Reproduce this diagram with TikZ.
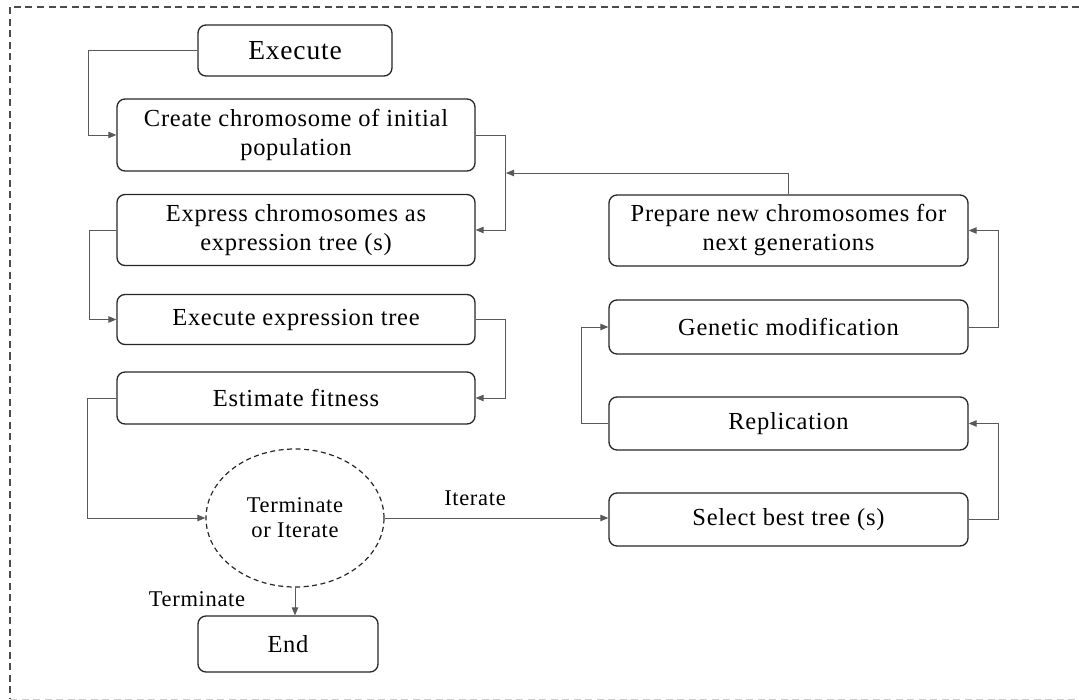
\documentclass[tikz,border=0pt]{standalone}
\usepackage{fontspec}
\setmainfont{Liberation Serif}[LetterSpace=3]
\usetikzlibrary{arrows.meta,shapes.geometric}
\begin{document}
\begin{tikzpicture}[x=1pt,y=-1pt,
  box/.style={draw=black!85,line width=1.3pt,rounded corners=8pt,align=center,inner sep=0pt,
    font=\fontsize{24.5}{29}\selectfont},
  conn/.style={draw=black!65,line width=0.9pt,-{Triangle[length=8pt,width=6.5pt]}},
  lbl/.style={font=\fontsize{22.5}{26}\selectfont,inner sep=0pt},
  frame/.style={black!70,line width=1.3pt,dash pattern=on 7pt off 4.5pt}]
\useasboundingbox (0,0) rectangle (1079,700);
\clip (0,0) rectangle (1079,700);
\draw[frame] (1079,7) -- (10,7) -- (10,699);
\draw[frame,black!20] (10,699.5) -- (1079,699.5);
% left column
\node[box,minimum width=194pt,minimum height=51pt,font=\fontsize{27.5}{32}\selectfont] (exe) at (295,50.5) {Execute};
\node[box,minimum width=358pt,minimum height=72pt] (create) at (296,135) {Create chromosome of initial\\population};
\node[box,minimum width=358pt,minimum height=71pt] (express) at (296,230) {Express chromosomes as\\expression tree (s)};
\node[box,minimum width=358pt,minimum height=50pt] (exetree) at (296,319.5) {Execute expression tree};
\node[box,minimum width=358pt,minimum height=52pt] (fit) at (296,398) {Estimate fitness};
\node[draw=black!85,line width=1.2pt,dash pattern=on 5pt off 3.5pt,ellipse,minimum width=178pt,minimum height=138pt,
  inner sep=0pt,align=center,font=\fontsize{22.5}{25}\selectfont] (dec) at (295,518) {Terminate\\or Iterate};
\node[box,minimum width=180pt,minimum height=56pt] (end) at (288,644) {End};
% right column
\node[box,minimum width=359pt,minimum height=71pt] (prep) at (788.5,230.5) {Prepare new chromosomes for\\next generations};
\node[box,minimum width=359pt,minimum height=54pt] (gen) at (788.5,327) {Genetic modification};
\node[box,minimum width=359pt,minimum height=53pt] (rep) at (788.5,423.5) {Replication};
\node[box,minimum width=359pt,minimum height=53pt] (sel) at (788.5,519.5) {Select best tree (s)};
% labels
\node[lbl] (lit) at (475,498) {Iterate};
\node[lbl] (lterm) at (197,599) {Terminate};
% connectors
\draw[conn] (exe.west) -- (88,50.5) |- (create.west);
\draw[conn] (create.east) -- (505,135) |- (express.east);
\draw[conn] (express.west) -- (89,230) |- (exetree.west);
\draw[conn] (exetree.east) -- (505,319.5) |- (fit.east);
\draw[conn] (fit.west) -- (87,398) |- (dec.west);
\draw[conn] (dec.east) -- (dec.east -| sel.west);
\draw[conn] (dec.south) -- (dec.south |- end.north);
\draw[conn] (sel.east) -- (998,519.5) |- (rep.east);
\draw[conn] (rep.west) -- (581,423.5) |- (gen.west);
\draw[conn] (gen.east) -- (998,327) |- (prep.east);
\coordinate (back) at (506,173);
\draw[conn] (prep.north) |- (back);
\end{tikzpicture}
\end{document}
